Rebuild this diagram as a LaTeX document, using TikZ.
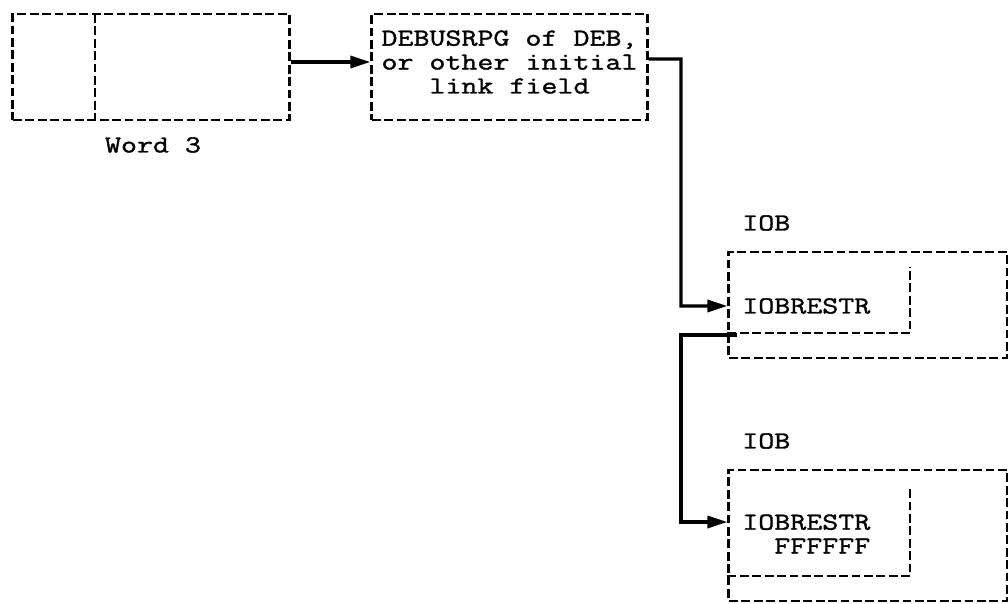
\documentclass[tikz,border=0pt]{standalone}
\usepackage{fontspec}
\setmainfont{Latin Modern Mono}[FakeStretch=1.27, FakeBold=1.4]
\usetikzlibrary{arrows.meta}
\tikzset{
    dbox/.style={draw, line width=2.1pt, dash pattern=on 0.22cm off 0.09cm, inner sep=0pt},
    dline/.style={line width=2.1pt, dash pattern=on 0.22cm off 0.09cm},
    link/.style={line width=2.3pt, -{Triangle[length=0.5cm, width=0.3cm]}},
    lbl/.style={font=\fontsize{17.4}{17}\selectfont, inner sep=0pt}
}
\begin{document}
\begin{tikzpicture}[x=0.025cm, y=-0.025cm]
    \useasboundingbox (0,0) rectangle (1008,604);

    % word 3 and the first link field
    \node[dbox, minimum width=6.9cm, minimum height=2.65cm] (word) at (151,67) {};
    \draw[dline] (95,14) -- (95,120);
    \node[lbl] (wordlbl) at (153,145) {Word 3};

    \node[dbox, minimum width=6.875cm, minimum height=2.65cm] (deb) at (509.5,67) {};
    \node[lbl, align=center] (debtext) at (509.5,62) {DEBUSRPG of DEB,\\or other initial\\link field};

    \draw[link] ([yshift=0.125cm]word.east) -- ([yshift=0.125cm]deb.west);

    % first IOB
    \node[lbl, anchor=west] (iobAlbl) at (742,223) {IOB};
    \node[dbox, minimum width=6.95cm, minimum height=2.65cm] (iobA) at (868,305) {};
    \coordinate (innerA) at (910,333);
    \draw[dline] (iobA.west |- innerA) -- (innerA) -- (910,267);
    \node[lbl, anchor=west] (restrA) at (742,306) {IOBRESTR};

    % second IOB
    \node[lbl, anchor=west] (iobBlbl) at (742,441) {IOB};
    \node[dbox, minimum width=6.95cm, minimum height=3.275cm] (iobB) at (868,535.5) {};
    \coordinate (innerB) at (910,576);
    \draw[dline] (iobB.west |- innerB) -- (innerB) -- (910,486);
    \node[lbl, anchor=west, align=right] (restrB) at (742,534) {IOBRESTR\\FFFFFF};

    % chain of links
    \coordinate (bendA) at (681,59);
    \draw[link] ([yshift=0.2cm]deb.east) -- (bendA) -- (bendA |- restrA.west) -- (iobA.west |- restrA.west);

    \coordinate (outB) at (737,335);
    \coordinate (bendB) at (681,335);
    \draw[link] (outB) -- (bendB) -- (bendB |- 0,522) -- (iobB.west |- 0,522);
\end{tikzpicture}
\end{document}
